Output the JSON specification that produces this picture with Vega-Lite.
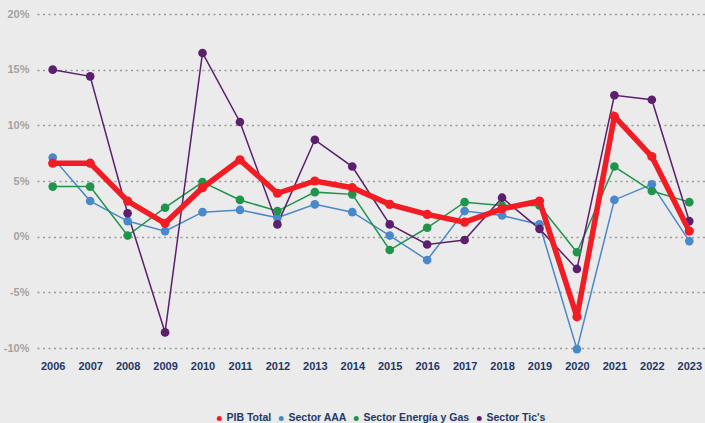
{
  "$schema": "https://vega.github.io/schema/vega-lite/v6.json",
  "width": 668,
  "height": 334,
  "autosize": "none",
  "padding": {"left": 37, "top": 14, "right": 0, "bottom": 75},
  "background": "#ebebeb",
  "config": {
    "view": {"stroke": null},
    "font": "Liberation Sans"
  },
  "datasets": {
    "d": [
      {"year": "2006", "series": "PIB Total", "value": 6.6},
      {"year": "2007", "series": "PIB Total", "value": 6.6},
      {"year": "2008", "series": "PIB Total", "value": 3.2},
      {"year": "2009", "series": "PIB Total", "value": 1.2},
      {"year": "2010", "series": "PIB Total", "value": 4.4},
      {"year": "2011", "series": "PIB Total", "value": 6.9},
      {"year": "2012", "series": "PIB Total", "value": 3.9},
      {"year": "2013", "series": "PIB Total", "value": 5.0},
      {"year": "2014", "series": "PIB Total", "value": 4.4},
      {"year": "2015", "series": "PIB Total", "value": 2.9},
      {"year": "2016", "series": "PIB Total", "value": 2.0},
      {"year": "2017", "series": "PIB Total", "value": 1.3},
      {"year": "2018", "series": "PIB Total", "value": 2.5},
      {"year": "2019", "series": "PIB Total", "value": 3.2},
      {"year": "2020", "series": "PIB Total", "value": -7.2},
      {"year": "2021", "series": "PIB Total", "value": 10.8},
      {"year": "2022", "series": "PIB Total", "value": 7.2},
      {"year": "2023", "series": "PIB Total", "value": 0.5},
      {"year": "2006", "series": "Sector AAA", "value": 7.1},
      {"year": "2007", "series": "Sector AAA", "value": 3.2},
      {"year": "2008", "series": "Sector AAA", "value": 1.4},
      {"year": "2009", "series": "Sector AAA", "value": 0.5},
      {"year": "2010", "series": "Sector AAA", "value": 2.2},
      {"year": "2011", "series": "Sector AAA", "value": 2.4},
      {"year": "2012", "series": "Sector AAA", "value": 1.7},
      {"year": "2013", "series": "Sector AAA", "value": 2.9},
      {"year": "2014", "series": "Sector AAA", "value": 2.2},
      {"year": "2015", "series": "Sector AAA", "value": 0.1},
      {"year": "2016", "series": "Sector AAA", "value": -2.1},
      {"year": "2017", "series": "Sector AAA", "value": 2.3},
      {"year": "2018", "series": "Sector AAA", "value": 1.9},
      {"year": "2019", "series": "Sector AAA", "value": 1.1},
      {"year": "2020", "series": "Sector AAA", "value": -10.1},
      {"year": "2021", "series": "Sector AAA", "value": 3.3},
      {"year": "2022", "series": "Sector AAA", "value": 4.7},
      {"year": "2023", "series": "Sector AAA", "value": -0.4},
      {"year": "2006", "series": "Sector Energía y Gas", "value": 4.5},
      {"year": "2007", "series": "Sector Energía y Gas", "value": 4.5},
      {"year": "2008", "series": "Sector Energía y Gas", "value": 0.1},
      {"year": "2009", "series": "Sector Energía y Gas", "value": 2.6},
      {"year": "2010", "series": "Sector Energía y Gas", "value": 4.9},
      {"year": "2011", "series": "Sector Energía y Gas", "value": 3.3},
      {"year": "2012", "series": "Sector Energía y Gas", "value": 2.3},
      {"year": "2013", "series": "Sector Energía y Gas", "value": 4.0},
      {"year": "2014", "series": "Sector Energía y Gas", "value": 3.8},
      {"year": "2015", "series": "Sector Energía y Gas", "value": -1.2},
      {"year": "2016", "series": "Sector Energía y Gas", "value": 0.8},
      {"year": "2017", "series": "Sector Energía y Gas", "value": 3.1},
      {"year": "2018", "series": "Sector Energía y Gas", "value": 2.8},
      {"year": "2019", "series": "Sector Energía y Gas", "value": 2.8},
      {"year": "2020", "series": "Sector Energía y Gas", "value": -1.4},
      {"year": "2021", "series": "Sector Energía y Gas", "value": 6.3},
      {"year": "2022", "series": "Sector Energía y Gas", "value": 4.1},
      {"year": "2023", "series": "Sector Energía y Gas", "value": 3.1},
      {"year": "2006", "series": "Sector Tic's", "value": 15.0},
      {"year": "2007", "series": "Sector Tic's", "value": 14.4},
      {"year": "2008", "series": "Sector Tic's", "value": 2.1},
      {"year": "2009", "series": "Sector Tic's", "value": -8.6},
      {"year": "2010", "series": "Sector Tic's", "value": 16.5},
      {"year": "2011", "series": "Sector Tic's", "value": 10.3},
      {"year": "2012", "series": "Sector Tic's", "value": 1.1},
      {"year": "2013", "series": "Sector Tic's", "value": 8.7},
      {"year": "2014", "series": "Sector Tic's", "value": 6.3},
      {"year": "2015", "series": "Sector Tic's", "value": 1.1},
      {"year": "2016", "series": "Sector Tic's", "value": -0.7},
      {"year": "2017", "series": "Sector Tic's", "value": -0.3},
      {"year": "2018", "series": "Sector Tic's", "value": 3.5},
      {"year": "2019", "series": "Sector Tic's", "value": 0.7},
      {"year": "2020", "series": "Sector Tic's", "value": -2.9},
      {"year": "2021", "series": "Sector Tic's", "value": 12.7},
      {"year": "2022", "series": "Sector Tic's", "value": 12.3},
      {"year": "2023", "series": "Sector Tic's", "value": 1.4}
    ]
  },
  "data": {"name": "d"},
  "encoding": {
    "x": {
      "field": "year", "type": "ordinal",
      "scale": {"type": "point", "padding": 0.42},
      "axis": {
        "title": null, "labelAngle": 0, "domain": false, "ticks": false,
        "grid": false, "labelFont": "Liberation Sans", "labelFontSize": 11,
        "labelFontWeight": "bold", "labelColor": "#22386a", "labelPadding": 12
      }
    },
    "y": {
      "field": "value", "type": "quantitative",
      "scale": {"domain": [-10, 20], "nice": false},
      "axis": {
        "title": null, "values": [-10, -5, 0, 5, 10, 15, 20],
        "labelExpr": "datum.value + '%'", "domain": false, "ticks": false,
        "grid": true, "gridColor": "#9a9a9a", "gridDash": [2, 3.5], "gridWidth": 1.3,
        "labelFont": "Liberation Sans", "labelFontSize": 11, "labelFontWeight": "bold",
        "labelColor": "#a3a3a3", "labelPadding": 8
      }
    },
    "color": {
      "field": "series", "type": "nominal",
      "scale": {
        "domain": ["PIB Total", "Sector AAA", "Sector Energía y Gas", "Sector Tic's"],
        "range": ["#f21c24", "#4a88cc", "#1f944a", "#5b1f6e"]
      },
      "legend": {
        "title": null, "orient": "none", "direction": "horizontal",
        "legendX": 177, "legendY": 399,
        "symbolType": "circle", "symbolSize": 25, "symbolStrokeWidth": 0,
        "labelFont": "Liberation Sans", "labelFontSize": 10.5, "labelFontWeight": "bold",
        "labelColor": "#22386a", "columnPadding": 4, "labelOffset": 2
      }
    }
  },
  "layer": [
    {
      "transform": [{"filter": "datum.series !== 'PIB Total'"}],
      "layer": [
        {"mark": {"type": "line", "strokeWidth": 1.5}},
        {"mark": {"type": "circle", "size": 75, "opacity": 1}}
      ]
    },
    {
      "transform": [{"filter": "datum.series === 'PIB Total'"}],
      "layer": [
        {"mark": {"type": "line", "strokeWidth": 5.5}},
        {"mark": {"type": "circle", "size": 85, "opacity": 1}}
      ]
    }
  ]
}
